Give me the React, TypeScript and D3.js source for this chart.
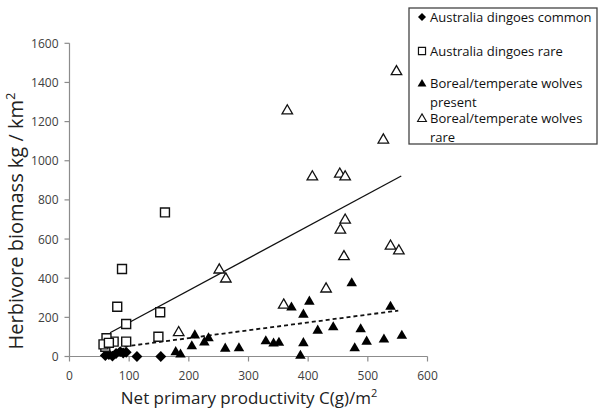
import * as d3 from "d3";

// Australia dingoes common (diamonds)
const dingoCommonX = [60, 66, 72, 78, 85, 90, 95, 113, 153];
const dingoCommonY = [5, 10, 2, 15, 25, 18, 22, 0, 0];

// Australia dingoes rare (open squares)
const dingoRareX = [160, 88, 80, 95, 152, 149, 95, 74, 62, 60, 57, 66];
const dingoRareY = [736, 447, 254, 166, 226, 101, 76, 76, 93, 50, 62, 70];

// Boreal/temperate wolves present (filled triangles)
const wolfPresentX = [178, 186, 205, 210, 226, 233, 261, 284, 329, 342, 351, 387, 392, 392, 372, 402, 416, 442, 473, 478, 488, 498, 527, 538, 557];
const wolfPresentY = [22, 10, 52, 108, 72, 93, 40, 42, 78, 66, 70, 4, 68, 214, 250, 280, 132, 149, 374, 42, 139, 76, 87, 254, 106];

// Boreal/temperate wolves rare (open triangles)
const wolfRareX = [548, 365, 526, 407, 453, 462, 462, 454, 460, 538, 552, 430, 359, 251, 262, 183];
const wolfRareY = [1455, 1255, 1106, 918, 932, 918, 697, 646, 510, 564, 540, 345, 263, 442, 396, 122];

// trend lines: [slope, intercept, xStart, xEnd]
const rareTrend = [1.64, 10, 68, 556];
const presentTrend = [0.4, 14, 92, 551];

const xTicks = [0, 100, 200, 300, 400, 500, 600];
const yTicks = [0, 200, 400, 600, 800, 1000, 1200, 1400, 1600];

const legendLabels = [
  ["Australia dingoes common"],
  ["Australia dingoes rare"],
  ["Boreal/temperate wolves", "present"],
  ["Boreal/temperate wolves", "rare"],
];

const FONT = "'Open Sans', Lato, sans-serif";

const diamond = {
  draw(ctx: any, size: number) {
    const r = Math.sqrt(size / 2);
    ctx.moveTo(0, -r);
    ctx.lineTo(r, 0);
    ctx.lineTo(0, r);
    ctx.lineTo(-r, 0);
    ctx.closePath();
  },
};

export default function App() {
  const x = d3.scaleLinear().domain([0, 600]).range([69.5, 427.5]);
  const y = d3.scaleLinear().domain([0, 1600]).range([356.5, 43.3]);

  const diamondPath = d3.symbol().type(diamond as any).size(60)()!;
  const squarePath = d3.symbol().type(d3.symbolSquare).size(80)()!;
  const triPath = d3.symbol().type(d3.symbolTriangle).size(48)()!;

  const trendLine = (t: number[]) =>
    d3.line<number>().x((v) => x(v)).y((v) => y(t[0] * v + t[1]))([t[2], t[3]])!;

  const axisColor = "#8c8c8c";

  return (
    <svg width={600} height={411} style={{ position: "absolute", left: 0, top: 0, background: "#fff" }} fontFamily={FONT}>
      {/* axes */}
      <line x1={x(0)} x2={x(600)} y1={y(0)} y2={y(0)} stroke={axisColor} strokeWidth={1.2} />
      <line x1={x(0)} x2={x(0)} y1={y(0)} y2={y(1600)} stroke={axisColor} strokeWidth={1.2} />
      {xTicks.map((t) => (
        <g key={"xt" + t}>
          <line x1={x(t)} x2={x(t)} y1={y(0)} y2={y(0) + 5} stroke={axisColor} strokeWidth={1.2} />
          <text x={x(t)} y={y(0) + 23.5} textAnchor="middle" fontSize={12} fill="#404040">{t}</text>
        </g>
      ))}
      {yTicks.map((t) => (
        <g key={"yt" + t}>
          <line x1={x(0) - 5} x2={x(0)} y1={y(t)} y2={y(t)} stroke={axisColor} strokeWidth={1.2} />
          <text x={x(0) - 11} y={y(t) + 4.5} textAnchor="end" fontSize={12} fill="#404040">{t}</text>
        </g>
      ))}

      {/* axis titles */}
      <text x={249} y={404} textAnchor="middle" fontSize={17} fill="#222">
        Net primary productivity C(g)/m<tspan dy={-7} fontSize={11}>2</tspan>
      </text>
      <text transform="translate(23,221) rotate(-90)" textAnchor="middle" fontSize={20} fill="#222">
        Herbivore biomass kg / km<tspan dy={-8} fontSize={13}>2</tspan>
      </text>

      {/* trend lines */}
      <path d={trendLine(rareTrend)} fill="none" stroke="#111" strokeWidth={1.3} />
      <path d={trendLine(presentTrend)} fill="none" stroke="#111" strokeWidth={1.8} strokeDasharray="4,3" />

      {/* points */}
      {dingoCommonX.map((v, i) => (
        <path key={"dc" + i} d={diamondPath} transform={`translate(${x(v)},${y(dingoCommonY[i])})`} fill="#000" />
      ))}
      {dingoRareX.map((v, i) => (
        <path key={"dr" + i} d={squarePath} transform={`translate(${x(v)},${y(dingoRareY[i])})`} fill="#fff" stroke="#111" strokeWidth={1.4} />
      ))}
      {wolfPresentX.map((v, i) => (
        <path key={"wp" + i} d={triPath} transform={`translate(${x(v)},${y(wolfPresentY[i])})`} fill="#000" />
      ))}
      {wolfRareX.map((v, i) => (
        <path key={"wr" + i} d={triPath} transform={`translate(${x(v)},${y(wolfRareY[i])})`} fill="#fff" stroke="#111" strokeWidth={1.3} />
      ))}

      {/* legend */}
      <rect x={409} y={8} width={188} height={136} fill="#fff" stroke="#444" strokeWidth={1.3} />
      {legendLabels.map((lines, i) => {
        const ly = [17, 51, 83, 118][i];
        const sym = i === 0 ? (
          <path d={d3.symbol().type(diamond as any).size(32)()!} transform={`translate(422,${ly})`} fill="#000" />
        ) : i === 1 ? (
          <path d={d3.symbol().type(d3.symbolSquare).size(50)()!} transform={`translate(422,${ly})`} fill="#fff" stroke="#111" strokeWidth={1.2} />
        ) : (
          <path d={d3.symbol().type(d3.symbolTriangle).size(34)()!} transform={`translate(422,${ly + 1})`} fill={i === 2 ? "#000" : "#fff"} stroke="#111" strokeWidth={i === 2 ? 0 : 1.1} />
        );
        return (
          <g key={"lg" + i}>
            {sym}
            {lines.map((l, j) => (
              <text key={j} x={430} y={ly + 5 + j * 18.5} fontSize={13} fill="#111">{l}</text>
            ))}
          </g>
        );
      })}
    </svg>
  );
}
